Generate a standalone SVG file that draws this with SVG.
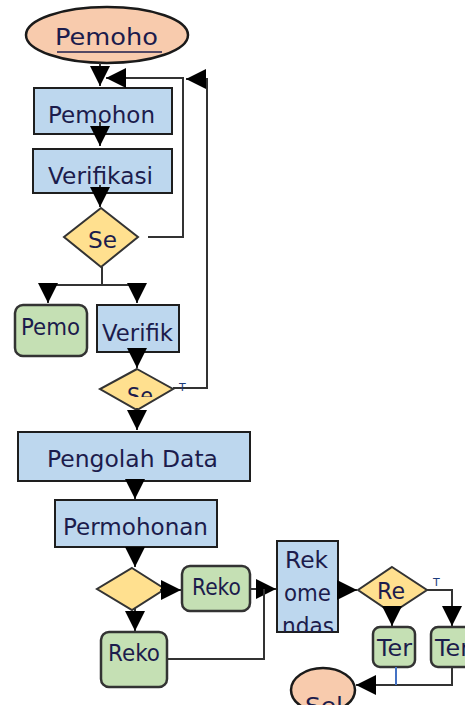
<svg xmlns="http://www.w3.org/2000/svg" width="465" height="705" viewBox="0 0 465 705">
<style>
.bg{fill:#ffffff}
.proc{fill:#bdd7ee;stroke:#1e1e1e;stroke-width:2}
.alt{fill:#c5e0b4;stroke:#333333;stroke-width:2.5}
.dec{fill:#ffe08f;stroke:#333333;stroke-width:2}
.term{fill:#f8cbad;stroke:#1a1a1a;stroke-width:2.5}
.t{font-family:"DejaVu Sans","Liberation Sans",sans-serif;font-size:23px;fill:#1c1c4c}
.s{font-family:"DejaVu Sans","Liberation Sans",sans-serif;font-size:11px;fill:#1c3c7c}
.c{fill:none;stroke:#333333;stroke-width:2}
.blue{fill:none;stroke:#4472c4;stroke-width:2}
</style>
<defs>
<marker id="ah" viewBox="0 0 10 10" refX="10" refY="5" markerWidth="20" markerHeight="20" markerUnits="userSpaceOnUse" orient="auto">
<path d="M0,0 L10,5 L0,10 z" fill="#000000"/>
</marker>
<clipPath id="clipSe2"><rect x="100" y="369" width="73" height="28"/></clipPath>
<clipPath id="clipRek"><rect x="277" y="541" width="61" height="91"/></clipPath>
</defs>
<rect class="bg" x="0" y="0" width="465" height="705"/>

<g id="n_start">
<ellipse class="term" cx="107" cy="35" rx="81" ry="28"/>
<text class="t" x="55" y="45" textLength="103" lengthAdjust="spacingAndGlyphs">Pemoho</text>
<line x1="57" y1="52" x2="162" y2="52" stroke="#1c1c4c" stroke-width="1.5"/>
</g>

<g id="n_pemohon">
<rect class="proc" x="34" y="88" width="138" height="46"/>
<text class="t" x="48" y="123" textLength="107" lengthAdjust="spacingAndGlyphs">Pemohon</text>
</g>

<g id="n_verifikasi">
<rect class="proc" x="33" y="149" width="139" height="44"/>
<text class="t" x="48" y="184" textLength="105" lengthAdjust="spacingAndGlyphs">Verifikasi</text>
</g>

<g id="n_se1">
<polygon class="dec" points="101,208 138,237 101,267 64,237"/>
<text class="t" x="88" y="248" textLength="29" lengthAdjust="spacingAndGlyphs">Se</text>
</g>

<g id="n_pemo">
<rect class="alt" x="15" y="305" width="72" height="51" rx="8"/>
<text class="t" x="21" y="335" textLength="59" lengthAdjust="spacingAndGlyphs">Pemo</text>
</g>

<g id="n_verifik">
<rect class="proc" x="97" y="305" width="82" height="47"/>
<text class="t" x="102" y="341" textLength="71" lengthAdjust="spacingAndGlyphs">Verifik</text>
</g>

<g id="n_se2">
<polygon class="dec" points="137,369 173,389 137,410 100,389"/>
<text class="t" x="127" y="404" textLength="26" lengthAdjust="spacingAndGlyphs" clip-path="url(#clipSe2)">Se</text>
</g>

<g id="n_pengolah">
<rect class="proc" x="18" y="432" width="232" height="49"/>
<text class="t" x="47" y="467" textLength="171" lengthAdjust="spacingAndGlyphs">Pengolah Data</text>
</g>

<g id="n_permohonan">
<rect class="proc" x="55" y="500" width="162" height="47"/>
<text class="t" x="63" y="535" textLength="145" lengthAdjust="spacingAndGlyphs">Permohonan</text>
</g>

<g id="n_dec3">
<polygon class="dec" points="132,568 165,589 132,610 97,589"/>
</g>

<g id="n_reko1">
<rect class="alt" x="182" y="566" width="68" height="45" rx="8"/>
<text class="t" x="192" y="595" textLength="49" lengthAdjust="spacingAndGlyphs">Reko</text>
</g>

<g id="n_reko2">
<rect class="alt" x="101" y="632" width="66" height="55" rx="8"/>
<text class="t" x="108" y="661" textLength="52" lengthAdjust="spacingAndGlyphs">Reko</text>
</g>

<g id="n_rekomendasi">
<rect class="proc" x="277" y="541" width="61" height="91"/>
<g clip-path="url(#clipRek)">
<text class="t" x="285" y="568" textLength="43" lengthAdjust="spacingAndGlyphs">Rek</text>
<text class="t" x="284" y="601" textLength="47" lengthAdjust="spacingAndGlyphs">ome</text>
<text class="t" x="282" y="634" textLength="52" lengthAdjust="spacingAndGlyphs">ndas</text>
</g>
</g>

<g id="n_re">
<polygon class="dec" points="392,567 427,590 392,613 358,590"/>
<text class="t" x="377" y="599" textLength="28" lengthAdjust="spacingAndGlyphs">Re</text>
</g>

<g id="n_ter1">
<rect class="alt" x="373" y="627" width="42" height="40" rx="7"/>
<text class="t" x="377" y="656" textLength="35" lengthAdjust="spacingAndGlyphs">Ter</text>
</g>

<g id="n_ter2">
<rect class="alt" x="431" y="627" width="44" height="40" rx="7"/>
<text class="t" x="435" y="656" textLength="35" lengthAdjust="spacingAndGlyphs">Ter</text>
</g>

<g id="n_sel">
<ellipse class="term" cx="323" cy="690" rx="32" ry="22"/>
<text class="t" x="305" y="714" textLength="38" lengthAdjust="spacingAndGlyphs">Sel</text>
</g>

<g id="connectors">
<line class="c" x1="100" y1="63" x2="100" y2="86" marker-end="url(#ah)"/>
<path class="c" d="M148,237 H183 V78 H106" marker-end="url(#ah)"/>
<path class="c" d="M173,388 H207 V79 H186" marker-end="url(#ah)"/>
<line class="c" x1="100" y1="122" x2="100" y2="146" marker-end="url(#ah)"/>
<line class="c" x1="100" y1="185" x2="100" y2="207" marker-end="url(#ah)"/>
<path class="c" d="M102,267 V285 H48 V303"  marker-end="url(#ah)"/>
<path class="c" d="M102,285 H137 V303" marker-end="url(#ah)"/>
<line class="c" x1="137" y1="348" x2="137" y2="368" marker-end="url(#ah)"/>
<line class="c" x1="137" y1="408" x2="137" y2="430" marker-end="url(#ah)"/>
<line class="c" x1="135" y1="481" x2="135" y2="499" marker-end="url(#ah)"/>
<line class="c" x1="135" y1="547" x2="135" y2="567" marker-end="url(#ah)"/>
<line class="c" x1="160" y1="590" x2="181" y2="590" marker-end="url(#ah)"/>
<line class="c" x1="135" y1="608" x2="135" y2="631" marker-end="url(#ah)"/>
<line class="c" x1="250" y1="589" x2="276" y2="589" marker-end="url(#ah)"/>
<path class="c" d="M167,659 H264 V589"/>
<line class="c" x1="338" y1="590" x2="357" y2="590" marker-end="url(#ah)"/>
<line class="c" x1="392" y1="608" x2="392" y2="626" marker-end="url(#ah)"/>
<path class="c" d="M427,590 H452 V626" marker-end="url(#ah)"/>
<path class="c" d="M452,667 V685 H356" marker-end="url(#ah)"/>
<path class="blue" d="M396,667 V685"/>
<text class="s" x="179" y="391">T</text>
<text class="s" x="433" y="586">T</text>
</g>
</svg>
